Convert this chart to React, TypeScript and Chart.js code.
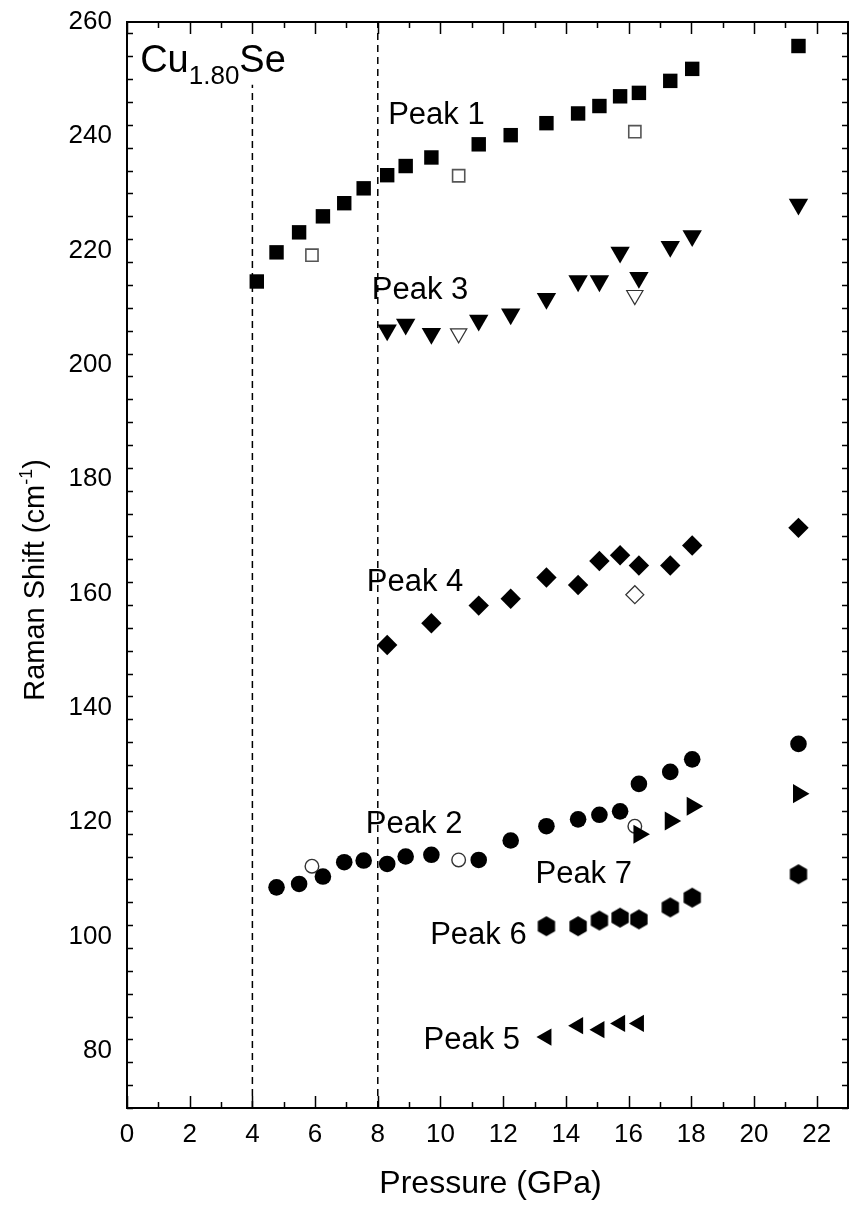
import React, { useEffect, useRef } from 'react';
import { Chart, registerables } from 'chart.js';

Chart.register(...registerables);

const FONT_FAMILY = '"Liberation Sans", Arial, Helvetica, sans-serif';

// Axis ranges and tick labels
const X_MIN = 0;
const X_MAX = 23;
const Y_MIN = 70;
const Y_MAX = 260;
const X_TICKS = [0, 2, 4, 6, 8, 10, 12, 14, 16, 18, 20, 22];
const Y_TICKS = [80, 100, 120, 140, 160, 180, 200, 220, 240, 260];
const X_MINOR_STEP = 1;
const Y_MINOR_STEP = 4;

// Phase boundaries (dashed lines), GPa
const boundaryP = [4, 8];
const boundaryTop = [249, 260];

// Peak 1 (filled squares) and decompression (open squares)
const peak1P = [4.14, 4.77, 5.49, 6.25, 6.93, 7.55, 8.3, 8.89, 9.71, 11.22, 12.24, 13.38, 14.39, 15.07, 15.73, 16.33, 17.33, 18.03, 21.42];
const peak1S = [214.6, 219.7, 223.2, 226.0, 228.3, 230.9, 233.2, 234.8, 236.3, 238.6, 240.2, 242.3, 244.0, 245.3, 247.0, 247.6, 249.7, 251.8, 255.8];
const peak1OpenP = [5.9, 10.58, 16.2];
const peak1OpenS = [219.2, 233.1, 240.8];

// Peak 3 (filled down triangles)
const peak3P = [8.3, 8.89, 9.71, 11.22, 12.24, 13.38, 14.39, 15.07, 15.73, 16.33, 17.33, 18.03, 21.42];
const peak3S = [206.1, 207.1, 205.5, 207.8, 208.9, 211.6, 214.7, 214.7, 219.7, 215.3, 220.7, 222.6, 228.1];
const peak3OpenP = [10.58, 16.2];
const peak3OpenS = [205.5, 212.2];

// Peak 4 (filled diamonds)
const peak4P = [8.3, 9.71, 11.22, 12.24, 13.38, 14.39, 15.07, 15.73, 16.33, 17.33, 18.03, 21.42];
const peak4S = [151.0, 154.8, 157.9, 159.1, 162.8, 161.5, 165.7, 166.7, 164.9, 164.9, 168.4, 171.5];
const peak4OpenP = [16.2];
const peak4OpenS = [159.8];

// Peak 2 (filled circles)
const peak2P = [4.77, 5.49, 6.25, 6.93, 7.55, 8.3, 8.89, 9.71, 11.22, 12.24, 13.38, 14.39, 15.07, 15.73, 16.33, 17.33, 18.03, 21.42];
const peak2S = [108.6, 109.2, 110.5, 113.0, 113.3, 112.7, 114.0, 114.3, 113.4, 116.8, 119.3, 120.5, 121.3, 121.9, 126.7, 128.8, 131.0, 133.7];
const peak2OpenP = [5.9, 10.58, 16.2];
const peak2OpenS = [112.3, 113.4, 119.3];

// Peak 7 (right triangles)
const peak7P = [16.33, 17.33, 18.03, 21.42];
const peak7S = [117.9, 120.2, 122.8, 125.0];

// Peak 6 (hexagons)
const peak6P = [13.38, 14.39, 15.07, 15.73, 16.33, 17.33, 18.03, 21.42];
const peak6S = [101.8, 101.8, 102.8, 103.3, 103.0, 105.1, 106.8, 110.9];

// Peak 5 (left triangles)
const peak5P = [13.38, 14.39, 15.07, 15.73, 16.33];
const peak5S = [82.4, 84.4, 83.7, 84.8, 84.8];

// Text annotations (anchor in data coordinates: left edge, baseline)
const peakLabelText = ['Peak 1', 'Peak 3', 'Peak 4', 'Peak 2', 'Peak 7', 'Peak 6', 'Peak 5'];
const peakLabelP = [8.33, 7.81, 7.65, 7.62, 13.03, 9.67, 9.46];
const peakLabelS = [242.1, 211.5, 160.4, 118.1, 109.4, 98.7, 80.4];
const sampleLabel = { main: 'Cu', sub: '1.80', tail: 'Se', p: 0.42, s: 251.3 };

const X_TITLE = 'Pressure (GPa)';
const Y_TITLE = ['Raman Shift (cm', '-1', ')'];

function pts(xs: number[], ys: number[]) {
  return xs.map((x, i) => ({ x, y: ys[i] }));
}

function makeHexagon(R: number) {
  const w = Math.ceil(Math.sqrt(3) * R) + 2;
  const h = Math.ceil(2 * R) + 2;
  const c = document.createElement('canvas');
  c.width = w;
  c.height = h;
  const ctx = c.getContext('2d')!;
  ctx.beginPath();
  for (let i = 0; i < 6; i++) {
    const a = Math.PI / 2 + (i * Math.PI) / 3;
    const px = w / 2 + R * Math.cos(a);
    const py = h / 2 - R * Math.sin(a);
    if (i === 0) ctx.moveTo(px, py);
    else ctx.lineTo(px, py);
  }
  ctx.closePath();
  ctx.fillStyle = '#000';
  ctx.fill();
  return c;
}

const decorPlugin = {
  id: 'decor',
  afterDraw(chart: any) {
    const { ctx, chartArea } = chart;
    const xs = chart.scales.x;
    const ys = chart.scales.y;
    const { left, right, top, bottom } = chartArea;
    ctx.save();
    ctx.strokeStyle = '#000';
    // ticks
    ctx.lineWidth = 1.5;
    const MAJ = 12;
    const MIN = 6;
    ctx.beginPath();
    for (let v = X_MIN; v <= X_MAX + 1e-9; v += X_MINOR_STEP) {
      const px = Math.round(xs.getPixelForValue(v)) + 0.5;
      const len = X_TICKS.includes(v) ? MAJ : MIN;
      ctx.moveTo(px, bottom);
      ctx.lineTo(px, bottom - len);
      ctx.moveTo(px, top);
      ctx.lineTo(px, top + len);
    }
    for (let v = Y_MIN; v <= Y_MAX + 1e-9; v += Y_MINOR_STEP) {
      const py = Math.round(ys.getPixelForValue(v)) + 0.5;
      const len = Y_TICKS.includes(v) ? MAJ : MIN;
      ctx.moveTo(left, py);
      ctx.lineTo(left + len, py);
      ctx.moveTo(right, py);
      ctx.lineTo(right - len, py);
    }
    ctx.stroke();
    // frame
    ctx.lineWidth = 2;
    ctx.strokeRect(left, top, right - left, bottom - top);

    // texts
    ctx.fillStyle = '#000';
    ctx.textAlign = 'left';
    ctx.textBaseline = 'alphabetic';
    ctx.font = `31px ${FONT_FAMILY}`;
    peakLabelText.forEach((t, i) => {
      ctx.fillText(t, xs.getPixelForValue(peakLabelP[i]), ys.getPixelForValue(peakLabelS[i]));
    });

    // sample label
    let sx = xs.getPixelForValue(sampleLabel.p);
    const sy = ys.getPixelForValue(sampleLabel.s);
    ctx.font = `38px ${FONT_FAMILY}`;
    ctx.fillText(sampleLabel.main, sx, sy);
    sx += ctx.measureText(sampleLabel.main).width;
    ctx.font = `26px ${FONT_FAMILY}`;
    ctx.fillText(sampleLabel.sub, sx, sy + 12);
    sx += ctx.measureText(sampleLabel.sub).width;
    ctx.font = `38px ${FONT_FAMILY}`;
    ctx.fillText(sampleLabel.tail, sx, sy);

    // x title
    ctx.font = `32px ${FONT_FAMILY}`;
    ctx.textAlign = 'center';
    ctx.fillText(X_TITLE, (left + right) / 2 + 3, 1193);

    // y title
    ctx.translate(44, (top + bottom) / 2 + 15);
    ctx.rotate(-Math.PI / 2);
    ctx.textAlign = 'left';
    const mainFont = `29px ${FONT_FAMILY}`;
    const supFont = `18px ${FONT_FAMILY}`;
    ctx.font = mainFont;
    const w1 = ctx.measureText(Y_TITLE[0]).width;
    const w3 = ctx.measureText(Y_TITLE[2]).width;
    ctx.font = supFont;
    const w2 = ctx.measureText(Y_TITLE[1]).width;
    let tx = -(w1 + w2 + w3) / 2;
    ctx.font = mainFont;
    ctx.fillText(Y_TITLE[0], tx, 0);
    tx += w1;
    ctx.font = supFont;
    ctx.fillText(Y_TITLE[1], tx, -12);
    tx += w2;
    ctx.font = mainFont;
    ctx.fillText(Y_TITLE[2], tx, 0);
    ctx.restore();
  },
};

function zeroPadding(s: any) {
  s.paddingTop = 0;
  s.paddingBottom = 0;
  s.paddingLeft = 0;
  s.paddingRight = 0;
}

export default function App() {
  const ref = useRef<HTMLCanvasElement>(null);

  useEffect(() => {
    document.body.style.margin = '0';
    const hex = makeHexagon(10);
    const marker = (data: any[], style: any, radius: number, fill: string, border: string, bw: number, rotation = 0) => ({
      type: 'scatter',
      data,
      pointStyle: style,
      pointRadius: radius,
      pointHoverRadius: radius,
      pointBackgroundColor: fill,
      pointBorderColor: border,
      pointBorderWidth: bw,
      pointRotation: rotation,
      showLine: false,
      order: 1,
    });
    const dashed = boundaryP.map((p, i) => ({
      type: 'scatter',
      data: [
        { x: p, y: Y_MIN },
        { x: p, y: boundaryTop[i] },
      ],
      showLine: true,
      borderColor: '#000',
      borderWidth: 1.5,
      borderDash: [7, 5],
      pointRadius: 0,
      order: 10,
    }));

    const chart = new Chart(ref.current!, {
      type: 'scatter',
      data: {
        datasets: [
          ...dashed,
          marker(pts(peak1P, peak1S), 'rect', 10.2, '#000', '#000', 0),
          marker(pts(peak1OpenP, peak1OpenS), 'rect', 8.6, '#fff', '#555', 1.6),
          marker(pts(peak3P, peak3S), 'triangle', 11.2, '#000', '#000', 0, 180),
          marker(pts(peak3OpenP, peak3OpenS), 'triangle', 9.4, '#fff', '#333', 1.2, 180),
          marker(pts(peak4P, peak4S), 'rectRot', 10.2, '#000', '#000', 0),
          marker(pts(peak4OpenP, peak4OpenS), 'rectRot', 9, '#fff', '#333', 1.2),
          marker(pts(peak2P, peak2S), 'circle', 8.3, '#000', '#000', 0),
          marker(pts(peak7P, peak7S), 'triangle', 11, '#000', '#000', 0, 90),
          marker(pts(peak2OpenP, peak2OpenS), 'circle', 6.8, '#fff', '#333', 1.4),
          marker(pts(peak6P, peak6S), hex, 10, '#000', '#000', 0),
          marker(pts(peak5P, peak5S), 'triangle', 10, '#000', '#000', 0, 270),
        ] as any,
      },
      options: {
        responsive: false,
        animation: false,
        events: [],
        layout: { autoPadding: false, padding: { top: 22, right: 1, left: 0, bottom: 0 } },
        plugins: { legend: { display: false }, tooltip: { enabled: false } },
        scales: {
          x: {
            type: 'linear',
            min: X_MIN,
            max: X_MAX,
            grid: { display: false, drawTicks: false },
            border: { display: false },
            ticks: { color: '#000', font: { family: FONT_FAMILY, size: 26 }, padding: 11, maxRotation: 0 },
            afterBuildTicks: (s: any) => {
              s.ticks = X_TICKS.map((v) => ({ value: v }));
            },
            afterFit: (s: any) => {
              s.height = 99;
              zeroPadding(s);
            },
          },
          y: {
            type: 'linear',
            min: Y_MIN,
            max: Y_MAX,
            grid: { display: false, drawTicks: false },
            border: { display: false },
            ticks: { color: '#000', font: { family: FONT_FAMILY, size: 26 }, padding: 15 },
            afterBuildTicks: (s: any) => {
              s.ticks = Y_TICKS.map((v) => ({ value: v }));
            },
            afterFit: (s: any) => {
              s.width = 127;
              zeroPadding(s);
            },
          },
        },
      } as any,
      plugins: [decorPlugin],
    });
    return () => chart.destroy();
  }, []);

  return (
    <div style={{ width: 849, height: 1207, background: '#fff' }}>
      <canvas ref={ref} width={849} height={1207} style={{ display: 'block' }} />
    </div>
  );
}
